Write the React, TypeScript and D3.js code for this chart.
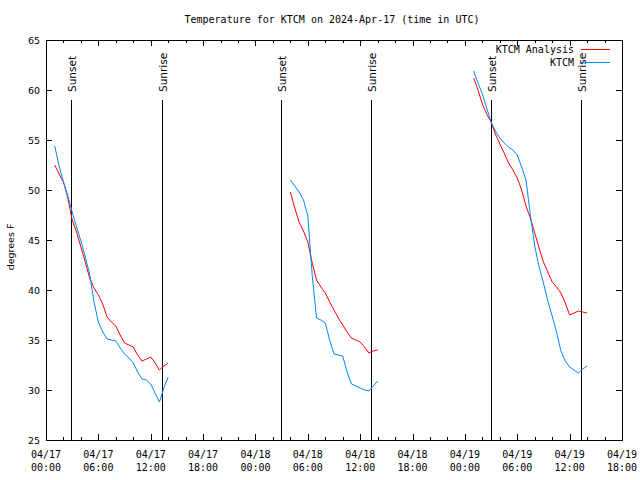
import React from "react";
import * as d3 from "d3";

// Hours after 2024-04-17 00:00 UTC
const night1Hours = [1, 1.5, 2, 2.5, 3, 3.5, 4, 4.5, 5, 5.5, 6, 6.5, 7, 7.5, 8, 8.5, 9, 9.5, 10, 10.5, 11, 11.5, 12, 12.5, 13, 13.5, 14];
const night1Analysis = [52.5, 51.6, 50.8, 49.2, 47.0, 45.8, 44.3, 42.8, 41.2, 40.2, 39.5, 38.6, 37.3, 36.8, 36.4, 35.5, 34.7, 34.5, 34.3, 33.5, 32.9, 33.1, 33.3, 32.7, 32.0, 32.4, 32.7];
const night1Obs = [54.4, 52.4, 50.8, 49.4, 47.8, 46.3, 44.9, 43.3, 41.6, 38.8, 36.8, 35.8, 35.1, 35.0, 34.9, 34.2, 33.6, 33.2, 32.7, 31.8, 31.1, 31.0, 30.6, 29.7, 28.8, 30.2, 31.3];

const night2Hours = [28, 28.5, 29, 29.5, 30, 30.5, 31, 31.5, 32, 32.5, 33, 33.5, 34, 34.5, 35, 35.5, 36, 36.5, 37, 37.5, 38];
const night2Analysis = [49.8, 48.2, 46.8, 45.9, 44.8, 42.7, 41.0, 40.3, 39.7, 38.8, 38.0, 37.2, 36.5, 35.8, 35.2, 35.0, 34.8, 34.3, 33.7, 33.9, 34.0];
const night2Obs = [51.0, 50.4, 49.8, 49.0, 47.4, 41.5, 37.2, 37.0, 36.7, 35.0, 33.6, 33.5, 33.4, 31.8, 30.6, 30.4, 30.2, 30.0, 29.9, 30.4, 30.9];

const night3Hours = [49, 49.5, 50, 50.5, 51, 51.5, 52, 52.5, 53, 53.5, 54, 54.5, 55, 55.5, 56, 56.5, 57, 57.5, 58, 58.5, 59, 59.5, 60, 60.5, 61, 61.5, 62];
const night3Analysis = [61.2, 60.0, 58.6, 57.6, 56.8, 55.6, 54.6, 53.7, 52.7, 52.0, 51.2, 50.0, 48.4, 47.2, 45.7, 44.2, 42.8, 41.8, 40.8, 40.3, 39.7, 38.7, 37.5, 37.7, 37.9, 37.8, 37.7];
const night3Obs = [61.9, 60.7, 59.6, 58.2, 56.8, 55.9, 55.2, 54.7, 54.3, 54.0, 53.5, 52.3, 51.0, 47.5, 44.4, 42.3, 40.7, 38.9, 37.4, 35.8, 33.9, 32.9, 32.3, 32.0, 31.7, 32.1, 32.4];

const sunEventHours = [2.88, 13.3, 26.92, 37.29, 50.94, 61.27];
const sunEventLabels = ["Sunset", "Sunrise", "Sunset", "Sunrise", "Sunset", "Sunrise"];

const xTickHours = [0, 6, 12, 18, 24, 30, 36, 42, 48, 54, 60, 66];
const xTickDates = ["04/17", "04/17", "04/17", "04/17", "04/18", "04/18", "04/18", "04/18", "04/19", "04/19", "04/19", "04/19"];
const xTickTimes = ["00:00", "06:00", "12:00", "18:00", "00:00", "06:00", "12:00", "18:00", "00:00", "06:00", "12:00", "18:00"];
const yTicks = [25, 30, 35, 40, 45, 50, 55, 60, 65];

const seriesNames = ["KTCM Analysis", "KTCM"];
const seriesColors = ["#ff0000", "#0088ff"];

const W = 640, H = 480;
const L = 46, R = 622, T = 40, B = 440;

export default function App() {
  const x = d3.scaleLinear().domain([0, 66]).range([L, R]);
  const y = d3.scaleLinear().domain([25, 65]).range([B, T]);
  const mono = "'DejaVu Sans Mono', 'Liberation Mono', monospace";
  const sans = "'DejaVu Sans', sans-serif";

  const nights = [
    { h: night1Hours, a: night1Analysis, o: night1Obs },
    { h: night2Hours, a: night2Analysis, o: night2Obs },
    { h: night3Hours, a: night3Analysis, o: night3Obs },
  ];
  const line = d3
    .line<[number, number]>()
    .x((d) => x(d[0]))
    .y((d) => y(d[1]));

  const minorTicks = d3.range(0, 67, 2).filter((h) => h % 6 !== 0);

  return (
    <svg width={W} height={H} style={{ display: "block", position: "absolute", left: 0, top: 0, background: "#fff" }}>
      <rect x={0} y={0} width={W} height={H} fill="#fff" />
      <text x={332} y={23} fontFamily={mono} fontSize={10} textAnchor="middle" fill="#000">
        Temperature for KTCM on 2024-Apr-17 (time in UTC)
      </text>
      {/* y ticks */}
      {yTicks.map((v) => (
        <g key={"y" + v}>
          <line shapeRendering="crispEdges" x1={L} x2={L + 6} y1={Math.round(y(v)) + 0.5} y2={Math.round(y(v)) + 0.5} stroke="#000" />
          <line shapeRendering="crispEdges" x1={R - 6} x2={R} y1={Math.round(y(v)) + 0.5} y2={Math.round(y(v)) + 0.5} stroke="#000" />
          <text x={40} y={y(v) + 4} fontFamily={sans} fontSize={9.5} textAnchor="end" fill="#000">
            {v}
          </text>
        </g>
      ))}
      {/* x ticks */}
      {xTickHours.map((h, i) => (
        <g key={"x" + h}>
          <line shapeRendering="crispEdges" x1={Math.round(x(h)) + 0.5} x2={Math.round(x(h)) + 0.5} y1={B} y2={B - 6} stroke="#000" />
          <line shapeRendering="crispEdges" x1={Math.round(x(h)) + 0.5} x2={Math.round(x(h)) + 0.5} y1={T} y2={T + 6} stroke="#000" />
          <text x={x(h)} y={458} fontFamily={mono} fontSize={10} textAnchor="middle" fill="#000">
            {xTickDates[i]}
          </text>
          <text x={x(h)} y={471} fontFamily={mono} fontSize={10} textAnchor="middle" fill="#000">
            {xTickTimes[i]}
          </text>
        </g>
      ))}
      {minorTicks.map((h) => (
        <g key={"m" + h} shapeRendering="crispEdges">
          <line x1={Math.round(x(h)) + 0.5} x2={Math.round(x(h)) + 0.5} y1={B} y2={B - 3} stroke="#000" />
          <line x1={Math.round(x(h)) + 0.5} x2={Math.round(x(h)) + 0.5} y1={T} y2={T + 3} stroke="#000" />
        </g>
      ))}
      <text transform={`translate(14,247) rotate(-90)`} fontFamily={sans} fontSize={9.5} textAnchor="middle" fill="#000">
        degrees F
      </text>
      {/* sun events */}
      {sunEventHours.map((h, i) => (
        <g key={"s" + i}>
          <line shapeRendering="crispEdges" x1={Math.round(x(h)) + 0.5} x2={Math.round(x(h)) + 0.5} y1={y(59)} y2={B} stroke="#000" />
          <text
            transform={`translate(${Math.round(x(h)) + 5},92) rotate(-90)`}
            fontFamily={sans}
            fontSize={10.5}
            textAnchor="start"
            fill="#000"
          >
            {sunEventLabels[i]}
          </text>
        </g>
      ))}
      {/* data */}
      {nights.map((n, i) => (
        <g key={"n" + i} fill="none" strokeWidth={1}>
          <path d={line(n.h.map((h, j) => [h, n.a[j]] as [number, number])) || ""} stroke={seriesColors[0]} />
          <path d={line(n.h.map((h, j) => [h, n.o[j]] as [number, number])) || ""} stroke={seriesColors[1]} />
        </g>
      ))}
      {/* legend */}
      {seriesNames.map((name, i) => (
        <g key={"l" + i}>
          <text x={574} y={53 + i * 13} fontFamily={mono} fontSize={10} textAnchor="end" fill="#000">
            {name}
          </text>
          <line shapeRendering="crispEdges" x1={581} x2={610} y1={49.5 + i * 13} y2={49.5 + i * 13} stroke={seriesColors[i]} />
        </g>
      ))}
      <rect x={L + 0.5} y={T + 0.5} width={R - L} height={B - T} fill="none" stroke="#000" shapeRendering="crispEdges" />
    </svg>
  );
}
